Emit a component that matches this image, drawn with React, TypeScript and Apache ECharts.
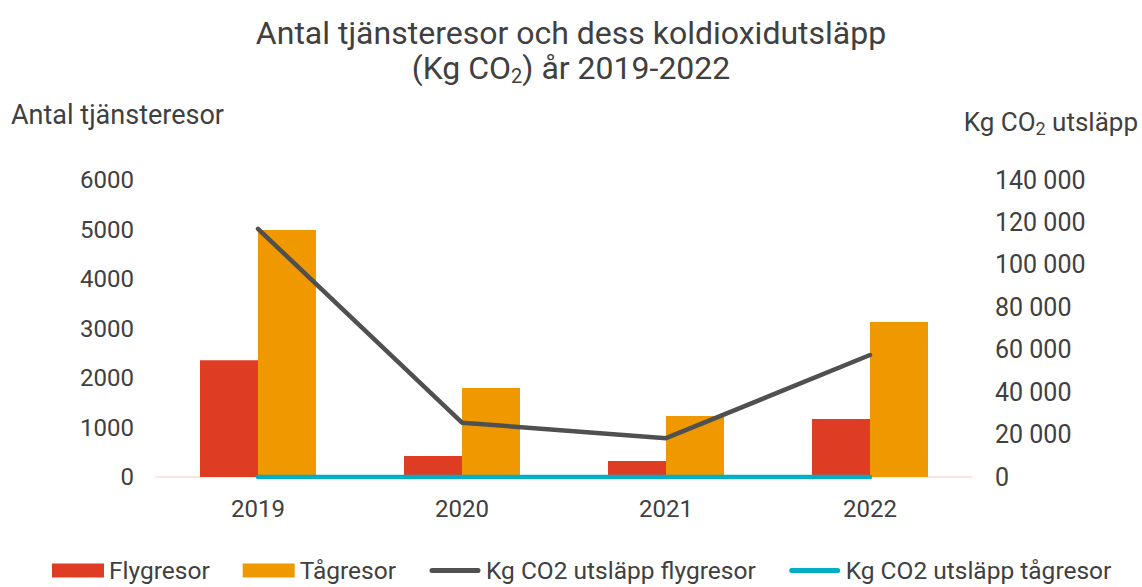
import React, { useEffect, useRef } from "react";
import * as echarts from "echarts";

const years = ["2019", "2020", "2021", "2022"];
const flygresor = [2360, 425, 325, 1170];
const tagresor = [4990, 1800, 1230, 3130];
const co2Flyg = [117000, 25600, 18300, 57500];
const co2Tag = [0, 0, 0, 0];

const FONT = "Roboto";
const TXT = "#404040";
const LINE_ICON = "path://M0,0 M52,14 M3,4.5 L49,4.5 A2.5,2.5 0 0 1 49,9.5 L3,9.5 A2.5,2.5 0 0 1 3,4.5 Z";

function fmtSpace(v: number) {
  return String(v).replace(/\B(?=(\d{3})+(?!\d))/g, " ");
}

export default function App() {
  const ref = useRef<HTMLDivElement>(null);
  useEffect(() => {
    document.body.style.margin = "0";
    const chart = echarts.init(ref.current!, null, { renderer: "svg" });
    chart.setOption({
      animation: false,
      textStyle: { fontFamily: FONT },
      title: {
        left: "center",
        top: 10,
        text: "Antal tjänsteresor och dess koldioxidutsläpp\n(Kg CO{sub|2}) år 2019-2022",
        textStyle: {
          fontFamily: FONT,
          fontSize: 32,
          fontWeight: "normal",
          color: TXT,
          lineHeight: 35,
          rich: {
            sub: { fontFamily: FONT, fontSize: 20, color: TXT, padding: [16, 0, 0, 0], lineHeight: 35 },
          },
        },
      },
      graphic: [
        {
          type: "text",
          left: 11,
          top: 101,
          style: { text: "Antal tjänsteresor", font: `27px ${FONT}`, fill: TXT },
        },
        {
          type: "text",
          right: 4,
          top: 109,
          style: {
            text: "Kg CO{sub|2} utsläpp",
            font: `26px ${FONT}`,
            fill: TXT,
            rich: { sub: { fontSize: 18, fontFamily: FONT, fill: TXT, padding: [12, 0, 0, 0] } },
          },
        },
      ],
      legend: {
        bottom: -1,
        left: 47,
        itemWidth: 52,
        itemHeight: 14,
        itemGap: 33,
        textStyle: { fontFamily: FONT, fontSize: 24.5, color: TXT },
        data: [
          { name: "Flygresor", icon: "rect" },
          { name: "Tågresor", icon: "rect" },
          { name: "Kg CO2 utsläpp flygresor", icon: LINE_ICON },
          { name: "Kg CO2 utsläpp tågresor", icon: LINE_ICON },
        ],
      },
      grid: { left: 156, right: 170, top: 180, bottom: 110, containLabel: false },
      xAxis: {
        type: "category",
        data: years,
        axisLine: { lineStyle: { color: "#F9DCD6", width: 1.5 } },
        axisTick: { show: false },
        axisLabel: { color: TXT, fontSize: 24, fontFamily: FONT, margin: 20 },
      },
      yAxis: [
        {
          type: "value",
          min: 0,
          max: 6000,
          interval: 1000,
          splitLine: { show: false },
          axisLine: { show: false },
          axisTick: { show: false },
          axisLabel: {
            color: TXT,
            fontSize: 24,
            fontFamily: FONT,
            margin: 22,
            formatter: (v: number) => String(v),
          },
        },
        {
          type: "value",
          min: 0,
          max: 140000,
          interval: 20000,
          splitLine: { show: false },
          axisLine: { show: false },
          axisTick: { show: false },
          axisLabel: {
            color: TXT,
            fontSize: 25,
            fontFamily: FONT,
            margin: 23,
            formatter: (v: number) => fmtSpace(v),
          },
        },
      ],
      series: [
        {
          name: "Flygresor",
          type: "bar",
          data: flygresor,
          barWidth: 58,
          barGap: "0%",
          itemStyle: { color: "#DE3C23" },
        },
        {
          name: "Tågresor",
          type: "bar",
          data: tagresor,
          barWidth: 58,
          barGap: "0%",
          itemStyle: { color: "#F09800" },
        },
        {
          name: "Kg CO2 utsläpp flygresor",
          type: "line",
          yAxisIndex: 1,
          data: co2Flyg,
          symbol: "none",
          lineStyle: { color: "#505050", width: 4.5, cap: "round" },
          itemStyle: { color: "#505050" },
          z: 5,
        },
        {
          name: "Kg CO2 utsläpp tågresor",
          type: "line",
          yAxisIndex: 1,
          data: co2Tag,
          symbol: "none",
          lineStyle: { color: "#00AEC5", width: 4.5, cap: "round" },
          itemStyle: { color: "#00AEC5" },
          z: 5,
        },
      ],
    });
    return () => chart.dispose();
  }, []);
  return <div ref={ref} style={{ width: 1142, height: 587 }} />;
}
